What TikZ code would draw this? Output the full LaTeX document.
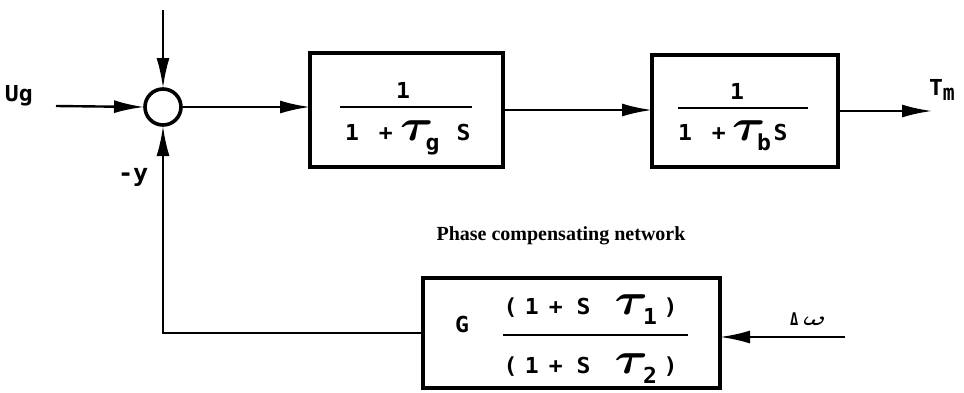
\documentclass[tikz,border=0pt]{standalone}
\usepackage{amsmath}
\usepackage{fontspec}
\usepackage{graphicx}
\usetikzlibrary{arrows.meta}
\newfontfamily\diagfont[FakeStretch=1.05]{DejaVu Sans Mono Bold}
\newfontfamily\capfont{Liberation Serif}

% large curly tau used in the transfer functions (math at the label size)
\newcommand\bigtau{\scalebox{2.45}[2.15]{$\boldsymbol{\tau}$}}
% place a piece of text at a horizontal offset (pt) from the line start
\newcommand\putat[2]{\makebox[0pt][l]{\hspace{#1pt}#2}}
% lowered index
\newcommand\lowsub[1]{\raisebox{-10pt}{#1}}

\tikzset{
  lbl/.style={inner sep=0pt, outer sep=0pt, font=\diagfont\fontsize{22}{26}\selectfont},
  blockbox/.style={draw, line width=4pt, inner sep=0pt, outer sep=0pt},
  sumjunction/.style={draw, circle, line width=3.6pt, minimum size=36pt, inner sep=0pt, outer sep=1pt},
  flow/.style={line width=2.4pt, -{Latex[length=30pt,width=13pt]}},
  fracbar/.style={line width=2.6pt},
}

\begin{document}
\begin{tikzpicture}[x=1pt,y=-1pt]
\useasboundingbox (0,0) rectangle (964,392);

% summing junction and blocks
\node[sumjunction] (sum) at (163,107) {};
\node[blockbox, minimum width=193pt, minimum height=114pt] (b1) at (406.5,110) {};
\node[blockbox, minimum width=186pt, minimum height=112pt] (b2) at (745,111) {};
\node[blockbox, minimum width=297pt, minimum height=110pt] (b3) at (571.5,333) {};

% free ends
\coordinate (topin) at (163,10);
\coordinate (ugin) at (56,106);
\coordinate (tmout) at (932,111);
\coordinate (dwin) at (845,337);

% labels
\node[lbl, anchor=base west] (ug) at (5,101) {Ug};
\node[lbl, anchor=base west, font=\diagfont\fontsize{24}{26}\selectfont] (my) at (118,181) {-y};
\node[lbl, anchor=base west] (tm) at (929,95) {T\raisebox{-5pt}{\scalebox{0.85}[1]{m}}};
\node[inner sep=0pt, anchor=base west, font=\diagfont] (dw) at (790,325)
  {\scalebox{1.3}[1.75]{Δ}\hspace{5pt}\scalebox{3.0}[1.9]{$\boldsymbol{\omega}$}};
\node[inner sep=0pt, anchor=base, font=\capfont\bfseries\fontsize{20}{24}\selectfont] (cap) at (561,240) {Phase compensating network};

% block 1: 1/(1 + tau_g S)
\node[lbl, anchor=base] (n1) at (403,98) {1};
\draw[fracbar] (340,107) -- (472,107);
\node[lbl, anchor=base west] (d1) at (344.5,140)
  {\putat{0}{1}\putat{34}{+}\putat{55}{\bigtau}\putat{80.5}{\lowsub{g}}\putat{111.5}{S}};

% block 2: 1/(1 + tau_b S)
\node[lbl, anchor=base] (n2) at (737,99) {1};
\draw[fracbar] (678,108) -- (808,108);
\node[lbl, anchor=base west] (d2) at (677.5,140)
  {\putat{0}{1}\putat{34}{+}\putat{54}{\bigtau}\putat{79}{\lowsub{b}}\putat{95.5}{S}};

% phase compensating network: G (1 + S tau_1)/(1 + S tau_2)
\node[lbl, anchor=base west] (g) at (455,332) {G};
\draw[fracbar] (503,335) -- (688,335);
\node[lbl, anchor=base west] (n3) at (503,314)
  {\putat{0}{(}\putat{21.5}{1}\putat{45.5}{+}\putat{73}{S}\putat{111}{\bigtau}\putat{139.5}{\lowsub{1}}\putat{160}{)}};
\node[lbl, anchor=base west] (d3) at (503,373)
  {\putat{0}{(}\putat{21.5}{1}\putat{45.5}{+}\putat{73}{S}\putat{111}{\bigtau}\putat{139.5}{\lowsub{2}}\putat{160}{)}};

% connectors
\draw[flow] (topin) -- (sum.north);
\draw[flow] (ugin) -- (sum.west);
\draw[flow] (sum.east) -- (sum.east -| b1.west);
\draw[flow] (b1.east) -- (b1.east -| b2.west);
\draw[flow] (b2.east) -- (tmout);
\draw[flow] (dwin) -- (dwin -| b3.east);
\draw[flow] (b3.west) -| (sum.south);
\end{tikzpicture}
\end{document}
